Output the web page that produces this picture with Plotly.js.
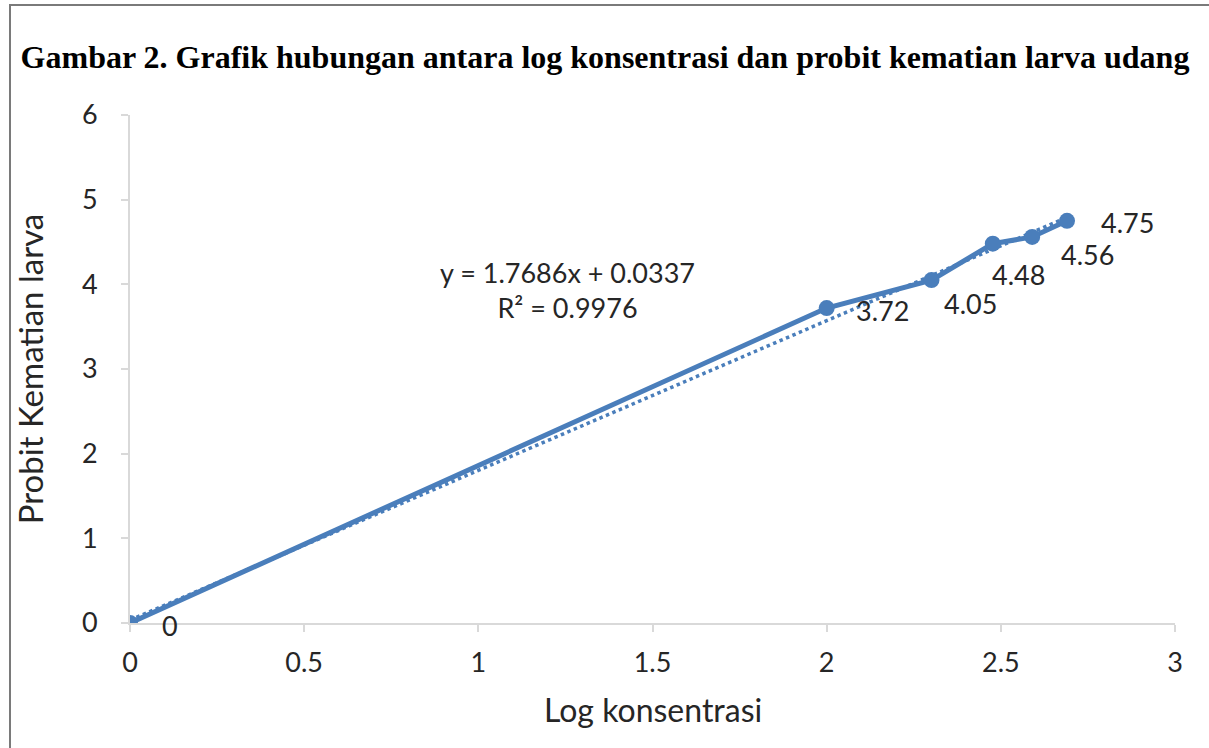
<!DOCTYPE html>
<html>
<head>
<meta charset="utf-8">
<script src="https://cdn.plot.ly/plotly-3.0.1.min.js"></script>
<style>
  html, body { margin: 0; padding: 0; background: #fff; }
  #chart { width: 1209px; height: 748px; }
  #frame { position: absolute; left: 9px; top: 4px; width: 1200px; height: 744px;
           border-top: 2px solid #7a7a7a; border-left: 2px solid #7a7a7a; pointer-events: none; }
</style>
</head>
<body>
<div id="chart"></div>
<div id="frame"></div>
<script>
// Data
const logKonsentrasi = [0, 2, 2.301, 2.477, 2.59, 2.69];
const probit = [0, 3.72, 4.05, 4.48, 4.56, 4.75];
const labelText = ['0', '3.72', '4.05', '4.48', '4.56', '4.75'];
const trendX = [0, 2.69];
const trendY = [0.034, 4.791];
const xTicks = [0, 0.5, 1, 1.5, 2, 2.5, 3];
const xTickText = ['0', '0.5', '1', '1.5', '2', '2.5', '3'];
const yTicks = [0, 1, 2, 3, 4, 5, 6];
const yTickText = ['0', '1', '2', '3', '4', '5', '6'];
const equationText = 'y = 1.7686x + 0.0337<br>R\u00b2 = 0.9976';
const titleText = 'Gambar 2. Grafik hubungan antara log konsentrasi dan probit kematian larva udang';
const xTitleText = 'Log konsentrasi';
const yTitleText = 'Probit Kematian larva';

const blue = '#4a7ebb';
const font = 'Lato, "Open Sans", sans-serif';
const txtColor = '#262626';

// label offsets (pixels) to mimic the Excel placement
const labelShift = [[40, -2], [56, -2], [39, -23], [26, -31], [55, -18], [60, -2]];

const annotations = logKonsentrasi.map((x, i) => ({
  x: x, y: probit[i], xref: 'x', yref: 'y', text: labelText[i], showarrow: false,
  xshift: labelShift[i][0], yshift: labelShift[i][1],
  font: {family: font, size: 27, color: txtColor}
}));
annotations.push({
  x: 1.257, y: 3.93, xref: 'x', yref: 'y', text: equationText, showarrow: false,
  align: 'center', font: {family: font, size: 27, color: txtColor}
});
// x-axis title placed as annotation below the tick labels
annotations.push({
  x: 0.5, y: -0.171, xref: 'paper', yref: 'paper', xanchor: 'center', yanchor: 'middle',
  text: xTitleText, showarrow: false, font: {family: font, size: 32, color: txtColor}
});

const traces = [
  {
    x: trendX, y: trendY, mode: 'lines', type: 'scatter',
    line: {color: blue, width: 3.5, dash: 'dot'}, hoverinfo: 'skip', showlegend: false
  },
  {
    x: logKonsentrasi, y: probit, mode: 'lines+markers', type: 'scatter',
    line: {color: blue, width: 5}, marker: {color: blue, size: 16},
    showlegend: false
  }
];

const axisCommon = {
  showgrid: false, zeroline: false, showline: true, linecolor: '#d9d9d9', linewidth: 2,
  ticks: 'outside', ticklen: 7, tickcolor: '#d9d9d9', tickwidth: 2,
  tickfont: {family: font, size: 27, color: txtColor}, fixedrange: true
};

const layout = {
  width: 1209, height: 748,
  paper_bgcolor: '#fff', plot_bgcolor: '#fff',
  margin: {l: 130, r: 34, t: 115, b: 125},
  title: {
    text: '<b>' + titleText + '</b>',
    font: {family: '"Liberation Serif", "Times New Roman", serif', size: 32, color: '#000'},
    x: 605 / 1209, xref: 'container', xanchor: 'center',
    y: 1 - 57 / 748, yref: 'container', yanchor: 'middle'
  },
  xaxis: Object.assign({}, axisCommon, {
    range: [0, 3], tickvals: xTicks, ticktext: xTickText, ticklabelstandoff: 8
  }),
  yaxis: Object.assign({}, axisCommon, {
    range: [0, 6], tickvals: yTicks, ticktext: yTickText, ticklabelstandoff: 18,
    title: {text: yTitleText, font: {family: font, size: 33, color: txtColor}, standoff: 28}
  }),
  annotations: annotations
};

Plotly.newPlot('chart', traces, layout, {displayModeBar: false, staticPlot: true});
</script>
</body>
</html>
